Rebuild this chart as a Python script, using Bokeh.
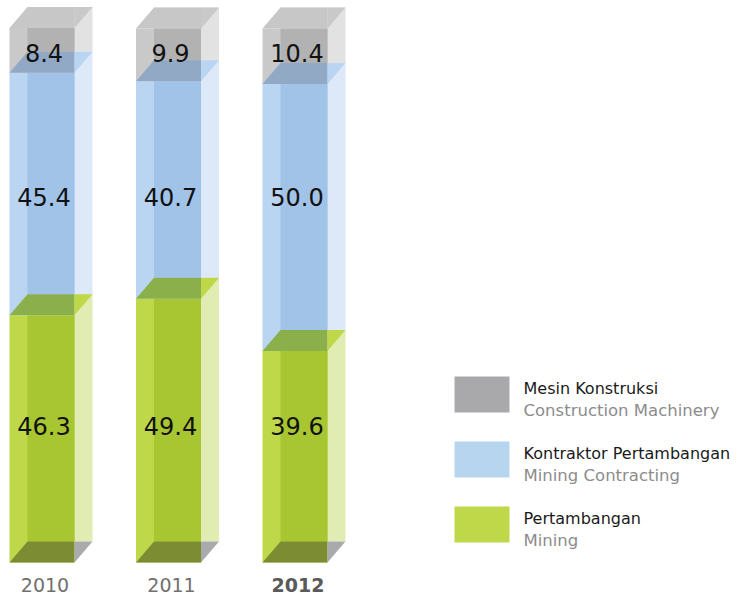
from bokeh.plotting import figure
from bokeh.models import Range1d, ColumnDataSource
from bokeh.core.properties import value
from bokeh.embed import file_html
from bokeh.resources import INLINE

# ---- data ----
years = ["2010", "2011", "2012"]
mining = [46.3, 49.4, 39.6]           # Pertambangan
contracting = [45.4, 40.7, 50.0]      # Kontraktor Pertambangan
machinery = [8.4, 9.9, 10.4]          # Mesin Konstruksi
series_id = ["Pertambangan", "Kontraktor Pertambangan", "Mesin Konstruksi"]
series_en = ["Mining", "Mining Contracting", "Construction Machinery"]

# ---- styles ----
light = ["#bed84a", "#b9d5f1", "#c9c9c9"]
mid = ["#a8c532", "#a2c3e8", "#b2b2b3"]
pale = ["#e1ecb2", "#dde9f8", "#e2e2e2"]
topc = ["#8bb04b", "#91a9c5", "#c7c7c7"]
legend_c = ["#bfd84a", "#b8d5f0", "#a9a9ab"]
floor_c = "#7b8c32"
floor_side = "#a9aaac"

W, H = 738, 597
PX = 126.5      # px per category step
PY = 5.34       # px per percent
x0r = -41.5 / PX
x1r = x0r + W / PX
y1r = 562 / PY
y0r = y1r - H / PY

def fx(page_x):
    return x0r + page_x / PX

def fy(page_y):
    return y1r - page_y / PY

hw = 32.5 / PX
DX = 18 / PX
DY = 21 / PY

p = figure(width=W, height=H, output_backend="svg", toolbar_location=None,
           x_range=Range1d(x0r, x1r), y_range=Range1d(y0r, y1r),
           min_border=0, outline_line_color=None)
p.xaxis.visible = False
p.yaxis.visible = False
p.grid.visible = False
p.background_fill_color = "white"
p.border_fill_color = "white"

values = [mining, contracting, machinery]
xs = list(range(len(years)))
bottoms = [0.0] * len(years)
segs = []
for s, vals in enumerate(values):
    tops = [b + v for b, v in zip(bottoms, vals)]
    src = ColumnDataSource(dict(
        l=[x - hw for x in xs], r=[x + hw for x in xs],
        b=bottoms[:], t=tops[:],
        bl=[x - hw + DX for x in xs], br=[x + hw + DX for x in xs],
        bb=[b + DY for b in bottoms], bt=[t + DY for t in tops],
    ))
    p.quad(left="bl", right="br", bottom="bb", top="bt", source=src,
           fill_color=pale[s], line_color=None)
    p.quad(left="l", right="r", bottom="b", top="t", source=src,
           fill_color=light[s], line_color=None)
    p.quad(left="bl", right="r", bottom="bb", top="t", source=src,
           fill_color=mid[s], line_color=None)
    segs.append((bottoms[:], tops[:]))
    bottoms = tops

for s, (bts, tps) in enumerate(segs):
    main_x, main_y, tri_x, tri_y = [], [], [], []
    for x, t in zip(xs, tps):
        l, r = x - hw, x + hw
        main_x.append([l, r, r, l + DX])
        main_y.append([t, t, t + DY, t + DY])
        tri_x.append([r, r + DX, r])
        tri_y.append([t, t + DY, t + DY])
    p.patches(main_x, main_y, fill_color=topc[s], line_color=None)
    p.patches(tri_x, tri_y, fill_color=light[s], line_color=None)

fm_x, fm_y, ft_x, ft_y = [], [], [], []
for x in xs:
    l, r = x - hw, x + hw
    fm_x.append([l, r, r, l + DX])
    fm_y.append([0, 0, DY, DY])
    ft_x.append([r, r + DX, r])
    ft_y.append([0, DY, DY])
p.patches(fm_x, fm_y, fill_color=floor_c, line_color=None)
p.patches(ft_x, ft_y, fill_color=floor_side, line_color=None)

label_rows = [fy(425), fy(196), fy(52)]
for s, vals in enumerate(values):
    p.text(x=[x + 2 / PX for x in xs], y=[label_rows[s]] * len(xs),
           text=[f"{v:.1f}" for v in vals],
           text_font=value("DejaVu Sans"), text_font_size="24px",
           text_color="#111111", text_align="center", text_baseline="middle")

p.text(x=[x + 3 / PX for x in xs[:2]], y=[fy(584)] * 2, text=years[:2],
       text_font=value("DejaVu Sans"), text_font_size="19px",
       text_color="#707070", text_align="center", text_baseline="middle")
p.text(x=[xs[2] + 3 / PX], y=[fy(584)], text=[years[2]],
       text_font=value("DejaVu Sans"), text_font_size="19px", text_font_style="bold",
       text_color="#5a5a5a", text_align="center", text_baseline="middle")

leg_order = [2, 1, 0]
sw_top = [376, 441, 506]
for k, s in enumerate(leg_order):
    p.quad(left=[fx(454)], right=[fx(509)], top=[fy(sw_top[k])], bottom=[fy(sw_top[k] + 36)],
           fill_color=legend_c[s], line_color=None)
    p.text(x=[fx(523)], y=[fy(sw_top[k] + 12)], text=[series_id[s]],
           text_font=value("DejaVu Sans"), text_font_size="16px",
           text_color="#1a1a1a", text_align="left", text_baseline="middle")
    p.text(x=[fx(523)], y=[fy(sw_top[k] + 34)], text=[series_en[s]],
           text_font=value("DejaVu Sans"), text_font_size="16.5px",
           text_color="#8c8c8c", text_align="left", text_baseline="middle")

open("out.html", "w").write(file_html(p, INLINE))
